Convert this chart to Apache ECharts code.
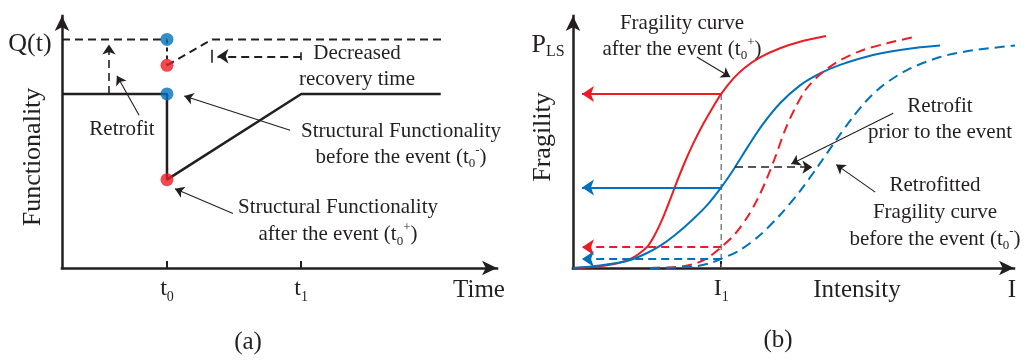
<!DOCTYPE html>
<html>
<head>
<meta charset="utf-8">
<script src="https://cdn.jsdelivr.net/npm/echarts@6/dist/echarts.min.js"></script>
<style>
  html, body { margin: 0; padding: 0; background: #ffffff; }
  #chart { width: 1025px; height: 360px; }
</style>
</head>
<body>
<div id="chart"></div>
<script>
// ---------- (a) functionality over time ----------
const timeTicks = [2.37, 5.4];            // t0, t1
const timeTickSubs = ['0', '1'];
const qLevel = 0.88;                      // Q(t) after retrofit
const baseLevel = 0.67;                   // original functionality
const dropLevel = 0.34;                   // functionality after the event
const retroDropLevel = 0.78;              // retrofitted, after the event
const retroRecoveredAt = 3.39;            // shorter recovery
const timeEnd = 8.55;
const retrofitAt = 1.06;

const functionality = [[0, baseLevel], [timeTicks[0], baseLevel], [timeTicks[0], dropLevel], [timeTicks[1], baseLevel], [timeEnd, baseLevel]];
const retroBefore = [[0, qLevel], [timeTicks[0], qLevel]];
const retroDrop = [[timeTicks[0], qLevel], [timeTicks[0], retroDropLevel]];
const retroRecovery = [[timeTicks[0], retroDropLevel], [retroRecoveredAt, qLevel], [8.6, qLevel]];
const bluePoints = [[timeTicks[0], qLevel], [timeTicks[0], baseLevel]];
const redPoints = [[timeTicks[0], retroDropLevel], [timeTicks[0], dropLevel]];
const recoveryGapLevel = 0.815;

// ---------- (b) fragility curves ----------
const intensityTicks = [33];              // I1
const fragAfter = [[0,0],[4.9,0.004],[8.24,0.012],[10.91,0.023],[13.14,0.038],[14.92,0.058],[16.7,0.085],[18.26,0.129],[19.82,0.185],[21.6,0.262],[23.16,0.333],[24.94,0.409],[26.73,0.478],[28.73,0.546],[30.96,0.613],[33,0.67],[35.63,0.728],[38.31,0.772],[41.65,0.811],[46.1,0.846],[50.56,0.871],[56.35,0.893]];
const fragBefore = [[0,0],[6.01,0.01],[12.03,0.027],[16.04,0.054],[19.38,0.085],[22.72,0.127],[26.73,0.188],[30.07,0.246],[33,0.31],[36.08,0.388],[38.98,0.468],[42.09,0.549],[46.1,0.634],[50.56,0.703],[55.01,0.749],[59.47,0.782],[66.82,0.82],[74.39,0.843],[81.74,0.856]];
const retroFragAfter = [[17.15,0],[21.6,0.002],[24.94,0.008],[27.62,0.019],[30.07,0.04],[33,0.08],[36.08,0.131],[38.98,0.2],[41.2,0.269],[43.21,0.346],[45.21,0.435],[47.22,0.531],[49.44,0.615],[51.89,0.688],[54.57,0.738],[58.35,0.788],[63.92,0.835],[69.93,0.865],[75.72,0.888]];
const retroFragBefore = [[17.15,0],[22.72,0.002],[27.17,0.006],[30.51,0.019],[33,0.035],[37.19,0.069],[41.65,0.127],[46.1,0.204],[50.56,0.296],[54.57,0.392],[58.57,0.492],[62.14,0.577],[65.26,0.642],[68.82,0.7],[74.39,0.762],[81.74,0.812],[89.09,0.838],[99.55,0.858]];
const levelsAtI1 = { after: 0.67, before: 0.31, retroAfter: 0.08, retroBefore: 0.035 };
const retrofitGap = { level: 0.388, from: 36.08, to: 53.3 };

// ---------- styling ----------
const INK = '#231f20';
const RED = '#ed1c24';
const BLUE = '#0072bc';
const GREY = '#6d6e71';
const SERIF = '"Liberation Serif", "Times New Roman", "DejaVu Serif", serif';

function rich(size, lh) {
  return {
    n:  { fontFamily: SERIF, fontSize: size, lineHeight: lh, color: INK },
    sb: { fontFamily: SERIF, fontSize: Math.round(size * 0.6), lineHeight: 10, verticalAlign: 'bottom', color: INK },
    sp: { fontFamily: SERIF, fontSize: Math.round(size * 0.6), lineHeight: 10, verticalAlign: 'top', color: INK }
  };
}

function axisArrowLine() {
  return { show: true, onZero: true, symbol: ['none', 'arrow'], symbolSize: [11, 15],
           lineStyle: { color: INK, width: 2.5, cap: 'square' } };
}

function lineSeries(gi, data, color, width, type, extra) {
  return Object.assign({
    type: 'line', xAxisIndex: gi, yAxisIndex: gi, data: data,
    showSymbol: false, symbol: 'none', clip: false, silent: true,
    lineStyle: { color: color, width: width, type: type }
  }, extra || {});
}

function curveSeries(data, color, type) {
  return lineSeries(1, data, color, 2, type, { smooth: 0.3, z: 3 });
}

function arrowSeries(gi, pairs, color, width, type, size, symbol) {
  return {
    type: 'lines', coordinateSystem: 'cartesian2d', xAxisIndex: gi, yAxisIndex: gi,
    symbol: symbol || ['none', 'arrow'], symbolSize: size, silent: true, z: 4,
    lineStyle: { color: color, width: width, type: type, opacity: 1, curveness: 0 },
    data: pairs.map(function (p) { return { coords: p }; })
  };
}

function text(x, y, str, size, lh, opts) {
  return Object.assign({
    type: 'text', x: x, y: y, silent: true, z: 10,
    style: {
      text: str, fontFamily: SERIF, fontSize: size, lineHeight: lh, fill: INK,
      align: 'center', verticalAlign: 'middle', textAlign: 'center', textVerticalAlign: 'middle',
      rich: rich(size, lh)
    }
  }, opts || {});
}

function subLabel(letter, ticks, subs) {
  return function (v) {
    let best = 0;
    ticks.forEach(function (t, i) { if (Math.abs(t - v) < Math.abs(ticks[best] - v)) best = i; });
    return '{n|' + letter + '}{sb|' + subs[best] + '}';
  };
}

const dash = [8, 5];
const curveDash = [10, 6];

const option = {
  animation: false,
  backgroundColor: '#ffffff',
  grid: [
    { left: 62, top: 16, width: 435, height: 252 },
    { left: 573, top: 16, width: 441, height: 252 }
  ],
  xAxis: [
    { gridIndex: 0, type: 'value', min: 0, max: 9.82,
      axisLine: axisArrowLine(),
      axisTick: { show: true, inside: true, length: 7, customValues: timeTicks, lineStyle: { color: INK, width: 2 } },
      axisLabel: { show: true, customValues: timeTicks, margin: 6, formatter: subLabel('t', timeTicks, timeTickSubs), rich: rich(24, 30) },
      splitLine: { show: false } },
    { gridIndex: 1, type: 'value', min: 0, max: 98.2,
      axisLine: axisArrowLine(),
      axisTick: { show: true, inside: true, length: 7, customValues: intensityTicks, lineStyle: { color: INK, width: 2 } },
      axisLabel: { show: true, customValues: intensityTicks, margin: 6, formatter: subLabel('I', intensityTicks, ['1']), rich: rich(24, 30) },
      splitLine: { show: false } }
  ],
  yAxis: [
    { gridIndex: 0, type: 'value', min: 0, max: 0.97,
      axisLine: axisArrowLine(), axisTick: { show: false }, axisLabel: { show: false }, splitLine: { show: false } },
    { gridIndex: 1, type: 'value', min: 0, max: 0.97,
      axisLine: axisArrowLine(), axisTick: { show: false }, axisLabel: { show: false }, splitLine: { show: false } }
  ],
  series: [
    // ----- (a) -----
    lineSeries(0, functionality, INK, 2.5, 'solid', { z: 3 }),
    lineSeries(0, retroBefore, INK, 2, dash),
    lineSeries(0, retroDrop, INK, 2, [4, 4]),
    lineSeries(0, retroRecovery, INK, 2, dash),
    arrowSeries(0, [[[retrofitAt, baseLevel], [retrofitAt, qLevel - 0.02]]], INK, 1.6, dash, 10),
    arrowSeries(0, [[[timeTicks[1], recoveryGapLevel], [retroRecoveredAt + 0.12, recoveryGapLevel]]], INK, 1.8, dash, 11),
    arrowSeries(0, [
      [[retroRecoveredAt, recoveryGapLevel - 0.025], [retroRecoveredAt, recoveryGapLevel + 0.025]],
      [[timeTicks[1], recoveryGapLevel - 0.015], [timeTicks[1], recoveryGapLevel + 0.015]]
    ], INK, 1.6, 'solid', 1, ['none', 'none']),
    arrowSeries(0, [
      [[1.74, 0.588], [1.24, 0.74]],
      [[5.15, 0.53], [2.76, 0.662]],
      [[3.86, 0.21], [2.55, 0.305]]
    ], INK, 1.1, 'solid', 9),
    { type: 'scatter', xAxisIndex: 0, yAxisIndex: 0, data: bluePoints, symbolSize: 13, z: 6, silent: true,
      itemStyle: { color: BLUE } },
    { type: 'scatter', xAxisIndex: 0, yAxisIndex: 0, data: redPoints, symbolSize: 13, z: 6, silent: true,
      itemStyle: { color: RED } },

    // ----- (b) -----
    lineSeries(1, [[intensityTicks[0], levelsAtI1.after], [intensityTicks[0], 0]], GREY, 1.3, [6, 4], { z: 1 }),
    arrowSeries(1, [[[intensityTicks[0], levelsAtI1.after], [2.0, levelsAtI1.after]]], RED, 2, 'solid', 12),
    arrowSeries(1, [[[intensityTicks[0], levelsAtI1.before], [2.0, levelsAtI1.before]]], BLUE, 2, 'solid', 12),
    arrowSeries(1, [[[intensityTicks[0], levelsAtI1.retroAfter], [2.0, levelsAtI1.retroAfter]]], RED, 2, [8, 5], 12),
    arrowSeries(1, [[[intensityTicks[0], levelsAtI1.retroBefore], [2.0, levelsAtI1.retroBefore]]], BLUE, 2, [8, 5], 12),
    curveSeries(fragAfter, RED, 'solid'),
    curveSeries(fragBefore, BLUE, 'solid'),
    curveSeries(retroFragAfter, RED, curveDash),
    curveSeries(retroFragBefore, BLUE, curveDash),
    arrowSeries(1, [[[retrofitGap.from, retrofitGap.level], [retrofitGap.to, retrofitGap.level]]], INK, 1.6, dash, 10),
    arrowSeries(1, [
      [[27.6, 0.812], [35.0, 0.735]],
      [[71.3, 0.596], [48.6, 0.40]],
      [[67.3, 0.292], [58.6, 0.398]]
    ], INK, 1.1, 'solid', 9)
  ],
  graphic: [
    // (a)
    text(30, 44, 'Q(t)', 26, 30),
    text(33, 157, 'Functionality', 26, 30, { rotation: Math.PI / 2 }),
    text(122, 129, 'Retrofit', 21, 26),
    text(357, 66, 'Decreased\nrecovery time', 21, 26),
    text(401, 144, 'Structural Functionality\nbefore the event (t{sb|0}{sp|-})', 21, 26),
    text(338, 221, 'Structural Functionality\nafter the event (t{sb|0}{sp|+})', 21, 27),
    text(479, 290, 'Time', 25, 30),
    text(248, 342, '(a)', 25, 30),
    // (b)
    text(548, 45, 'P{sb|LS}', 26, 30),
    text(543, 137, 'Fragility', 26, 30, { rotation: Math.PI / 2 }),
    text(682, 36, 'Fragility curve\nafter the event (t{sb|0}{sp|+})', 21, 26),
    text(940, 119, 'Retrofit\nprior to the event', 21, 26),
    text(935, 212, 'Retrofitted\nFragility curve\nbefore the event (t{sb|0}{sp|-})', 21, 27),
    text(857, 290, 'Intensity', 25, 30),
    text(1012, 290, 'I', 25, 30),
    text(778, 340, '(b)', 25, 30)
  ]
};

const chart = echarts.init(document.getElementById('chart'), null, { renderer: 'canvas' });
chart.setOption(option);
</script>
</body>
</html>
